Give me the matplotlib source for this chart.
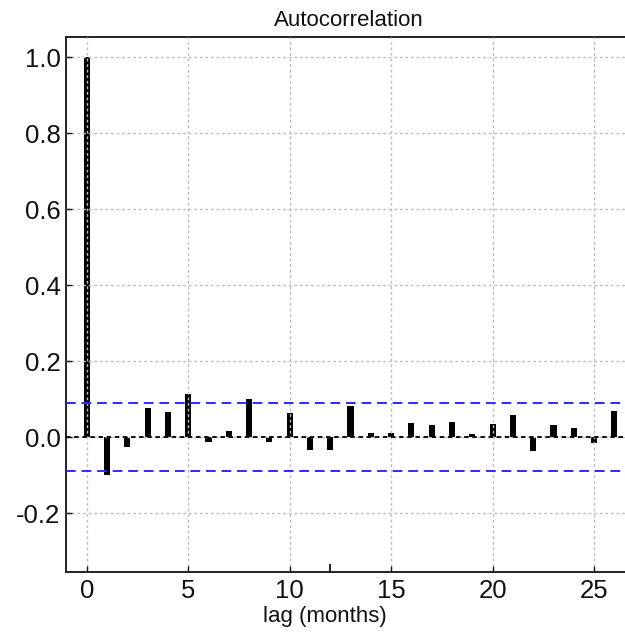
import matplotlib

matplotlib.use("Agg")
import matplotlib.pyplot as plt  # noqa: E402

# sample autocorrelation by lag (months)
lags = list(range(0, 27))
acf = [1.0, -0.099, -0.026, 0.077, 0.067, 0.114, -0.013, 0.017, 0.10, -0.012,
       0.063, -0.034, -0.034, 0.082, 0.011, 0.012, 0.037, 0.031, 0.041, 0.008,
       0.035, 0.058, -0.035, 0.031, 0.024, -0.015, 0.069]
conf = 0.089  # 95% band
yticks = [-0.2, 0.0, 0.2, 0.4, 0.6, 0.8, 1.0]
xticks = [0, 5, 10, 15, 20, 25]

plt.rcParams["font.family"] = ["Liberation Sans", "DejaVu Sans"]

fig = plt.figure(figsize=(6.25, 6.33), dpi=100)
ax = fig.add_axes([0.1056, 0.0968, 0.905, 0.8443])

ax.bar(lags, acf, width=0.3, color="black", zorder=1)
ax.axhline(0, color="black", lw=1.3, ls=(0, (2.5, 2)), zorder=3)
ax.axhline(conf, color="#2b2bff", lw=1.4, ls=(0, (5, 3)), zorder=3)
ax.axhline(-conf, color="#2b2bff", lw=1.4, ls=(0, (5, 3)), zorder=3)

ax.set_xlim(-1.02, 26.85)
ax.set_ylim(-0.354, 1.053)
ax.set_xticks(xticks)
ax.set_xticks([12], minor=True)
ax.set_yticks(yticks)
ax.set_yticklabels([f"{v:.1f}" for v in yticks])

ax.grid(True, color="#bdbdbd", lw=1.0, ls=(0, (2, 2)), zorder=2)
ax.set_axisbelow(False)

ax.tick_params(axis="both", which="major", direction="in", length=4,
               width=1, labelsize=18.5, colors="#111111")
ax.tick_params(axis="x", which="major", pad=5.5)
ax.tick_params(axis="y", which="major", pad=4)
ax.tick_params(axis="x", which="minor", direction="in", length=5.5, width=1.2)

for s in ax.spines.values():
    s.set_linewidth(1.4)
    s.set_color("#222222")
ax.spines["right"].set_visible(False)

ax.set_title("Autocorrelation", fontsize=16, pad=8, color="#111111")
ax.set_xlabel("lag (months)", fontsize=16, color="#111111")
ax.xaxis.set_label_coords(0.458, -0.064)

fig.savefig("out.png", dpi=100)
